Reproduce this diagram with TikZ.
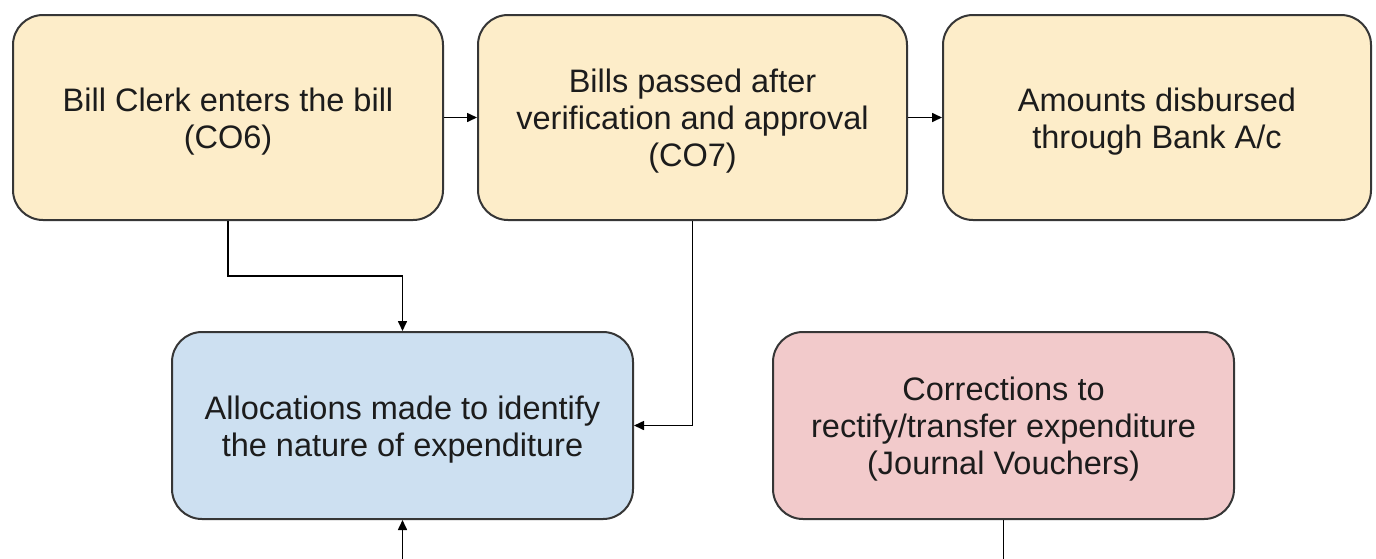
\documentclass[tikz,border=0pt]{standalone}
\usepackage{fontspec}
\setmainfont{Liberation Sans}
\usetikzlibrary{arrows.meta}
\definecolor{boxyellow}{HTML}{FDEDC9}
\definecolor{boxblue}{HTML}{CDE0F1}
\definecolor{boxred}{HTML}{F2CACB}
\definecolor{edgegray}{HTML}{363636}
\definecolor{txtgray}{HTML}{1C1C1C}
\newcommand{\boxtext}[1]{\raisebox{-5pt}[\height][\depth]{\begin{tabular}{@{}c@{}}#1\end{tabular}}}
\tikzset{
  flowbox/.style={draw=edgegray, line width=2pt, rounded corners=30pt,
    text=txtgray, font=\fontsize{32.5}{37}\selectfont, inner sep=0pt},
  conn/.style={draw=black, line width=1.6pt, -{Triangle[length=10pt,width=9pt]}},
}
\begin{document}
\begin{tikzpicture}[x=1pt,y=-1pt]
\useasboundingbox (0,0) rectangle (1376,558);
\fill[white] (0,0) rectangle (1376,558);
\clip (0,0) rectangle (1376,558);
\node[flowbox, fill=boxyellow, minimum width=430pt, minimum height=205pt] (b1) at (228,117.5)
  {\boxtext{Bill Clerk enters the bill\\(CO6)}};
\node[flowbox, fill=boxyellow, minimum width=429pt, minimum height=205pt] (b2) at (692.5,117.5)
  {\boxtext{Bills passed after\\verification and approval\\(CO7)}};
\node[flowbox, fill=boxyellow, minimum width=428pt, minimum height=205pt] (b3) at (1157,117.5)
  {\boxtext{Amounts disbursed\\through Bank A/c}};
\node[flowbox, fill=boxblue, minimum width=461pt, minimum height=187pt] (b4) at (402.5,425.5)
  {\boxtext{Allocations made to identify\\the nature of expenditure}};
\node[flowbox, fill=boxred, minimum width=461pt, minimum height=187pt] (b5) at (1003.5,425.5)
  {\boxtext{Corrections to\\rectify/transfer expenditure\\(Journal Vouchers)}};
\draw[conn] (b1.east) -- (b2.west);
\draw[conn] (b2.east) -- (b3.west);
\draw[conn] (b1.south) -- ++(0,55) -| (b4.north);
\draw[conn] (b2.south) |- (b4.east);
\draw[conn] (b5.south) -- ++(0,60) -| (b4.south);
\end{tikzpicture}
\end{document}
